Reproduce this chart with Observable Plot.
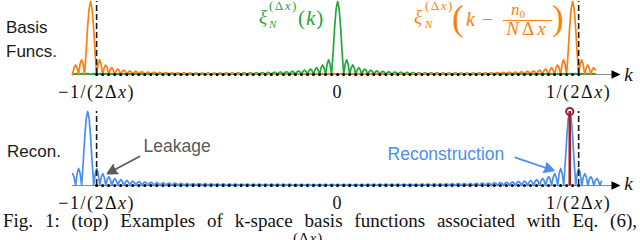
<!DOCTYPE html>
<html><head><meta charset="utf-8">
<script src="https://cdn.jsdelivr.net/npm/d3@7"></script>
<script src="https://cdn.jsdelivr.net/npm/@observablehq/plot@0.6"></script>
<style>
html,body{margin:0;padding:0;background:#fff;}
#wrap{position:relative;width:640px;height:240px;overflow:hidden;}
#top,#bot{position:absolute;left:0;}
#top{top:0}
#bot{top:100px}
#cap{position:absolute;left:3px;top:211px;width:634px;font-family:"Liberation Serif","Times New Roman",serif;font-size:19px;line-height:19px;text-align:justify;text-align-last:justify;color:#111;white-space:normal;}
#cap2{position:absolute;left:293px;top:231px;font-family:"Liberation Serif","Times New Roman",serif;font-size:15px;line-height:15px;letter-spacing:1px;color:#111;}
</style></head>
<body><div id="wrap"><div id="top"></div><div id="bot"></div>
<div id="cap">Fig. 1: (top) Examples of k-space basis functions associated with Eq. (6),</div>
<div id="cap2">(Δ<i>x</i>)</div></div>
<script>
// ---------------- data ----------------
const N = 80;                                // grid samples across one period
const kDomain = [-0.55, 0.62];               // k in units of 1/Δx
const tickValues = [-0.5, 0, 0.5];
const tickLabels = ["−1/(2Δx)", "0", "1/(2Δx)"];
const greenCenter = 0;                       // ξ(k)
const orangeCenter = 0.4875;                 // ξ(k − n0/(NΔx))
const blueCenter = 0.4815;                   // reconstruction / true source
const topCurveEnd = 0.537;
const botCurveEnd = 0.55;
// main lobe magnitude at 0, 1/4, 1/2, 3/4, 1 sample
const mainLobe = [1, 0.9, 0.64, 0.3, 0];
// sidelobe shape at 0, 1/4, 1/2, 3/4, 1 of a lobe
const lobeShape = [0, 0.7, 1, 0.7, 0];
// sidelobe peak heights, lobes 1..39
const basisLobes = [0.2, 0.13, 0.095, 0.075, 0.06, 0.05, 0.044, 0.039, 0.035, 0.032,
  0.029, 0.027, 0.025, 0.023, 0.022, 0.021, 0.02, 0.019, 0.018, 0.017,
  0.017, 0.016, 0.016, 0.015, 0.015, 0.015, 0.014, 0.014, 0.014, 0.014,
  0.013, 0.013, 0.013, 0.013, 0.013, 0.013, 0.013, 0.013, 0.013];
const reconLobes = [0.23, 0.16, 0.12, 0.095, 0.08, 0.068, 0.06, 0.054, 0.048, 0.044,
  0.04, 0.037, 0.034, 0.032, 0.03, 0.028, 0.027, 0.026, 0.025, 0.024,
  0.023, 0.022, 0.021, 0.021, 0.02, 0.02, 0.019, 0.019, 0.019, 0.018,
  0.018, 0.018, 0.018, 0.017, 0.017, 0.017, 0.017, 0.017, 0.017];

// ---------------- helpers ----------------
const SERIF = "Liberation Serif, Times New Roman, serif";
const SANS = "Liberation Sans, Arial, Helvetica, sans-serif";
const GREEN = "#22a83a", ORANGE = "#ff7f0e", BLUE = "#4a8ff0", RED = "#a31f2a", GRAY = "#5a5a5a";

function kernelValue(q, lobes) { // q = quarter-sample offset, >= 0
  if (q <= 4) return mainLobe[q];
  const j = Math.floor(q / 4), r = q % 4;
  if (r === 0) return 0;
  return lobes[j - 1] * lobeShape[r];
}
function curve(center, lobes, kEnd) {
  const pts = [];
  for (const img of [center - 1, center, center + 1]) {
    for (let s = -4 * N / 2; s <= 4 * N / 2; s++) {
      const k = img + s / (4 * N);
      if (k < kDomain[0] - 1e-9 || k > kEnd) continue;
      pts.push({k, v: kernelValue(Math.abs(s), lobes)});
    }
  }
  return pts.sort((a, b) => a.k - b.k);
}
const sampleK = d3.range(-N / 2, N / 2 + 1).map(m => m / N);
const greenPts = curve(greenCenter, basisLobes, topCurveEnd);
const orangePts = curve(orangeCenter, basisLobes, topCurveEnd);
const bluePts = curve(blueCenter, reconLobes, botCurveEnd);

function common(kLabelDy) {
  return {
    axis: [
      Plot.ruleY([0], {x1: kDomain[0], x2: 0.58, stroke: "#8a8a8a", strokeWidth: 1})
    ],
    top: [
      Plot.ruleX(tickValues.filter(d => d !== 0), {x: d => d, y1: 0, y2: 1, stroke: "#1a1a1a", strokeDasharray: "6,3", strokeWidth: 1.6}),
      Plot.dot(sampleK, {x: d => d, y: 0, r: 1.5, fill: "black", stroke: "none"}),
      Plot.arrow([0], {x1: 0.5, y1: 0, x2: 0.5869, y2: 0, stroke: "none", fill: "black", strokeWidth: 1, headLength: 15, headAngle: 50}),
      Plot.text(tickValues, {x: d => d, y: 0, text: (d, i) => tickLabels[i], dy: 23, lineAnchor: "bottom", textAnchor: "middle", fontFamily: SERIF, fontSize: 18, fill: "#111"}),
      Plot.text(["k"], {x: 0.6035, y: 0, text: d => d, dy: kLabelDy, lineAnchor: "bottom", textAnchor: "middle", fontFamily: SERIF, fontSize: 19, fontStyle: "italic", fill: "#111"})
    ]
  };
}

function italicizeTicks(svg) {
  d3.select(svg).selectAll("text").each(function () {
    const s = this.textContent;
    if (tickLabels.includes(s) && s.endsWith("x)")) {
      this.innerHTML = s.slice(0, -2) + '<tspan font-style="italic">x</tspan>)';
    }
    if (tickLabels.includes(s)) this.setAttribute("letter-spacing", "1.5");
  });
}
function addText(svg, x, y, html, attrs) {
  const t = d3.select(svg).append("text").attr("x", x).attr("y", y).attr("text-anchor", "start").html(html);
  for (const [k, v] of Object.entries(attrs)) t.attr(k, v);
  return t;
}

// ---------------- top panel ----------------
const c1 = common(6);
const topSvg = Plot.plot({
  width: 640, height: 105,
  x: {domain: kDomain, range: [72, 636], axis: null},
  y: {domain: [0, 1], range: [74, 1], axis: null},
  style: {background: "transparent", overflow: "visible"},
  marks: [
    ...c1.axis,
    Plot.line(greenPts, {x: "k", y: "v", stroke: GREEN, strokeWidth: 1.7}),
    Plot.line(orangePts, {x: "k", y: "v", stroke: ORANGE, strokeWidth: 1.7}),
    ...c1.top
  ]
});
italicizeTicks(topSvg);
const sansLbl = {"font-family": SANS, "font-size": 17, fill: "#1a1a1a"};
addText(topSvg, 6, 33, "Basis", sansLbl);
addText(topSvg, 6, 57, "Funcs.", sansLbl);
// green math label
const ser = (size, color, extra = {}) => Object.assign({"font-family": SERIF, "font-size": size, fill: color}, extra);
addText(topSvg, 259, 23, '<tspan font-style="italic">ξ</tspan>', ser(19, GREEN));
addText(topSvg, 269, 9.5, '(Δ<tspan font-style="italic">x</tspan>)', ser(13, GREEN, {"letter-spacing": 1.5}));
addText(topSvg, 269, 28, '<tspan font-style="italic">N</tspan>', ser(11, GREEN));
addText(topSvg, 298, 25, '(<tspan font-style="italic">k</tspan>)', ser(21, GREEN, {"letter-spacing": 1}));
// orange math label
addText(topSvg, 414, 23, '<tspan font-style="italic">ξ</tspan>', ser(19, ORANGE));
addText(topSvg, 425, 9.5, '(Δ<tspan font-style="italic">x</tspan>)', ser(13, ORANGE, {"letter-spacing": 1.5}));
addText(topSvg, 425, 28, '<tspan font-style="italic">N</tspan>', ser(11, ORANGE));
addText(topSvg, 452, 30, '(', ser(35, ORANGE));
addText(topSvg, 466, 26, '<tspan font-style="italic">k</tspan>', ser(20, ORANGE));
addText(topSvg, 482, 26, '−', ser(20, ORANGE));
addText(topSvg, 511, 15, '<tspan font-style="italic">n</tspan>', ser(17, ORANGE));
addText(topSvg, 519.5, 18, '0', ser(11, ORANGE));
d3.select(topSvg).append("line").attr("x1", 503).attr("x2", 552).attr("y1", 20.5).attr("y2", 20.5).attr("stroke", ORANGE).attr("stroke-width", 1);
addText(topSvg, 527.5, 34.5, '<tspan font-style="italic">N</tspan>Δ<tspan font-style="italic">x</tspan>', ser(19, ORANGE, {"text-anchor": "middle", "letter-spacing": 3}));
addText(topSvg, 552, 30, ')', ser(35, ORANGE));
document.getElementById("top").appendChild(topSvg);

// ---------------- bottom panel ----------------
const c2 = common(4);
const botSvg = Plot.plot({
  width: 640, height: 125,
  x: {domain: kDomain, range: [72, 636], axis: null},
  y: {domain: [0, 1], range: [85, 11], axis: null},
  style: {background: "transparent", overflow: "visible"},
  marks: [
    ...c2.axis,
    Plot.line(bluePts, {x: "k", y: "v", stroke: BLUE, strokeWidth: 1.7}),
    Plot.ruleX([blueCenter], {x: d => d, y1: 0, y2: 1, stroke: RED, strokeWidth: 2.5}),
    Plot.dot([blueCenter], {x: d => d, y: 1, r: 3.6, stroke: RED, strokeWidth: 2, fill: "none"}),
    ...c2.top,
    Plot.arrow([0], {x1: -0.411, y1: 0.392, x2: -0.4773, y2: 0.162, stroke: GRAY, fill: GRAY, strokeWidth: 1.8, headLength: 8.5, headAngle: 55}),
    Plot.arrow([0], {x1: 0.369, y1: 0.378, x2: 0.4481, y2: 0.203, stroke: BLUE, fill: BLUE, strokeWidth: 1.8, headLength: 8.5, headAngle: 55}),
    Plot.text(["Leakage"], {x: -0.4027, y: 0.45, text: d => d, lineAnchor: "bottom", textAnchor: "start", fontFamily: SANS, fontSize: 17.5, fill: GRAY}),
    Plot.text(["Reconstruction"], {x: 0.1035, y: 0.338, text: d => d, lineAnchor: "bottom", textAnchor: "start", fontFamily: SANS, fontSize: 17.5, fill: BLUE})
  ]
});
italicizeTicks(botSvg);
addText(botSvg, 7, 56.7, "Recon.", sansLbl);
document.getElementById("bot").appendChild(botSvg);
</script>
</body></html>
